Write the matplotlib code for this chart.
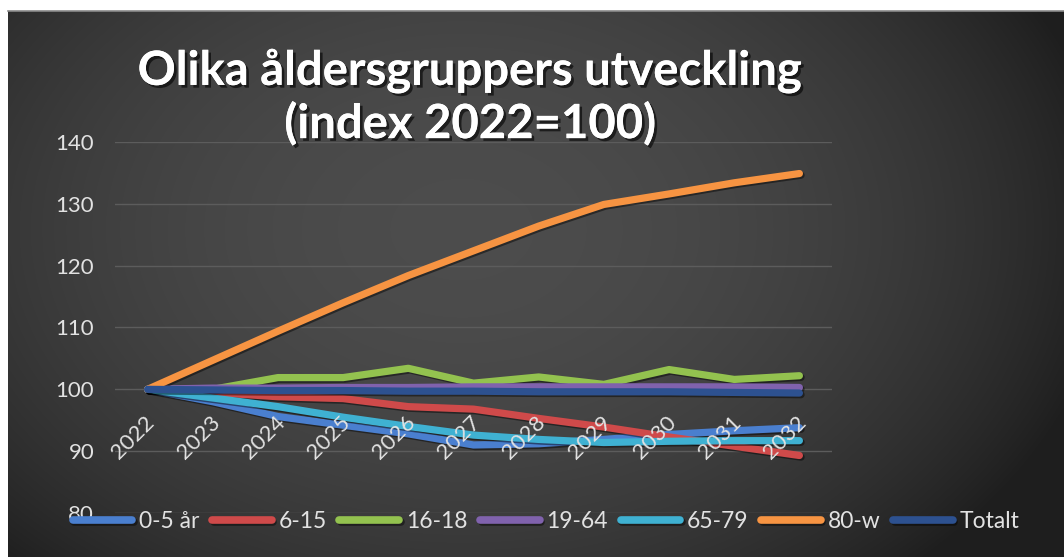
import numpy as np
import matplotlib
matplotlib.use("Agg")
import matplotlib.pyplot as plt
import matplotlib.patheffects as pe
from matplotlib.transforms import ScaledTranslation

years = ["2022", "2023", "2024", "2025", "2026", "2027", "2028", "2029", "2030", "2031", "2032"]
series_names = ["0-5 år", "6-15", "16-18", "19-64", "65-79", "80-w", "Totalt"]
v_0_5 = [100, 98.0, 95.6, 94.2, 92.8, 91.0, 91.2, 91.9, 92.7, 93.3, 93.8]
v_6_15 = [100, 99.5, 98.8, 98.5, 97.2, 96.8, 95.3, 93.9, 92.3, 90.8, 89.3]
v_16_18 = [100, 100.0, 101.9, 101.9, 103.4, 101.0, 102.0, 100.8, 103.2, 101.6, 102.2]
v_19_64 = [100, 100.2, 100.2, 100.3, 100.3, 100.4, 100.4, 100.4, 100.4, 100.4, 100.3]
v_65_79 = [100, 98.6, 97.2, 95.5, 94.0, 92.6, 91.9, 91.4, 91.6, 91.7, 91.7]
v_80w = [100, 104.7, 109.4, 114.0, 118.4, 122.4, 126.4, 129.9, 131.6, 133.4, 134.9]
v_tot = [100, 99.9, 99.8, 99.8, 99.7, 99.7, 99.6, 99.6, 99.6, 99.5, 99.4]
yticks = [80, 90, 100, 110, 120, 130, 140]

colors = ["#4a7fcf", "#cf4a4a", "#93c24f", "#8062ad", "#3fb1d2", "#f79442", "#2d5190"]

plt.rcParams['font.family'] = ['Lato', 'DejaVu Sans']

W, H = 1064, 557
fig = plt.figure(figsize=(W / 100, H / 100), dpi=100, facecolor="white")

# background gradient
bg = fig.add_axes([8 / W, 0, 1 - 8 / W, 1 - 11 / H])
bg.set_axis_off()
nx, ny = 400, 220
xx, yy = np.meshgrid(np.linspace(0, 1, nx), np.linspace(0, 1, ny))
r2 = ((xx - 0.43) / 0.62) ** 2 + ((yy - 0.40) / 0.85) ** 2
lev = 0.12 + (0.30 - 0.12) * np.clip(1 - r2, 0, 1) ** 0.9
img = np.dstack([lev, lev, lev])
bg.imshow(img, extent=[0, 1, 1, 0], aspect="auto", interpolation="bilinear")
bg.set_xlim(0, 1)
bg.set_ylim(1, 0)
fig.add_artist(plt.Line2D([8 / W, 1], [1 - 11 / H, 1 - 11 / H], color="#8a8a8a", lw=1.2))

ax = fig.add_axes([115 / W, 1 - 513 / H, (832 - 115) / W, (513 - 142) / H])
ax.set_facecolor("none")
x = np.arange(len(years))
all_vals = [v_0_5, v_6_15, v_16_18, v_19_64, v_65_79, v_80w, v_tot]
for vals, c, n in zip(all_vals, colors, series_names):
    ax.plot(x, vals, color=c, lw=5.2, label=n, solid_capstyle="round", solid_joinstyle="round",
            path_effects=[pe.SimpleLineShadow(offset=(1.2, -1.2), shadow_color="black", alpha=0.45),
                          pe.Normal()])

ax.set_xlim(-0.5, len(years) - 0.5)
ax.set_ylim(80, 140)
ax.set_yticks(yticks)
ax.grid(axis="y", color="#5c5c5c", lw=1.0)
ax.set_axisbelow(True)
ax.xaxis.set_zorder(5)
for s in ax.spines.values():
    s.set_visible(False)
ax.spines["bottom"].set_position(("data", 100))
ax.tick_params(axis="both", length=0, colors="#e2e2e2", labelsize=16)
ax.tick_params(axis="y", pad=15)
ax.set_xticks(x)
ax.set_xticklabels(years, rotation=45, ha="right", va="center", rotation_mode="anchor")
ax.tick_params(axis="x", pad=0)
off = ScaledTranslation(4 / 100, -30 / 100, fig.dpi_scale_trans)
for lab in ax.get_xticklabels():
    lab.set_transform(lab.get_transform() + off)

fig.text(470 / W, 1 - 97 / H, "Olika åldersgruppers utveckling\n(index 2022=100)",
         ha="center", va="center", color="white", fontsize=34, fontweight="bold",
         linespacing=1.2,
         path_effects=[pe.withSimplePatchShadow(offset=(2, -2), shadow_rgbFace="black", alpha=0.6),
                       pe.Normal()])

handles, labels = ax.get_legend_handles_labels()
leg = fig.legend(handles, labels, loc="center", bbox_to_anchor=(546 / W, 1 - 522 / H), ncol=7,
                 frameon=False, fontsize=16.5, handlelength=2.6, handletextpad=0.3,
                 columnspacing=0.55, labelcolor="#e2e2e2")
for h in leg.legend_handles:
    h.set_linewidth(5.5)
    h.set_solid_capstyle("round")

fig.savefig("out.png", dpi=100, facecolor="white")
